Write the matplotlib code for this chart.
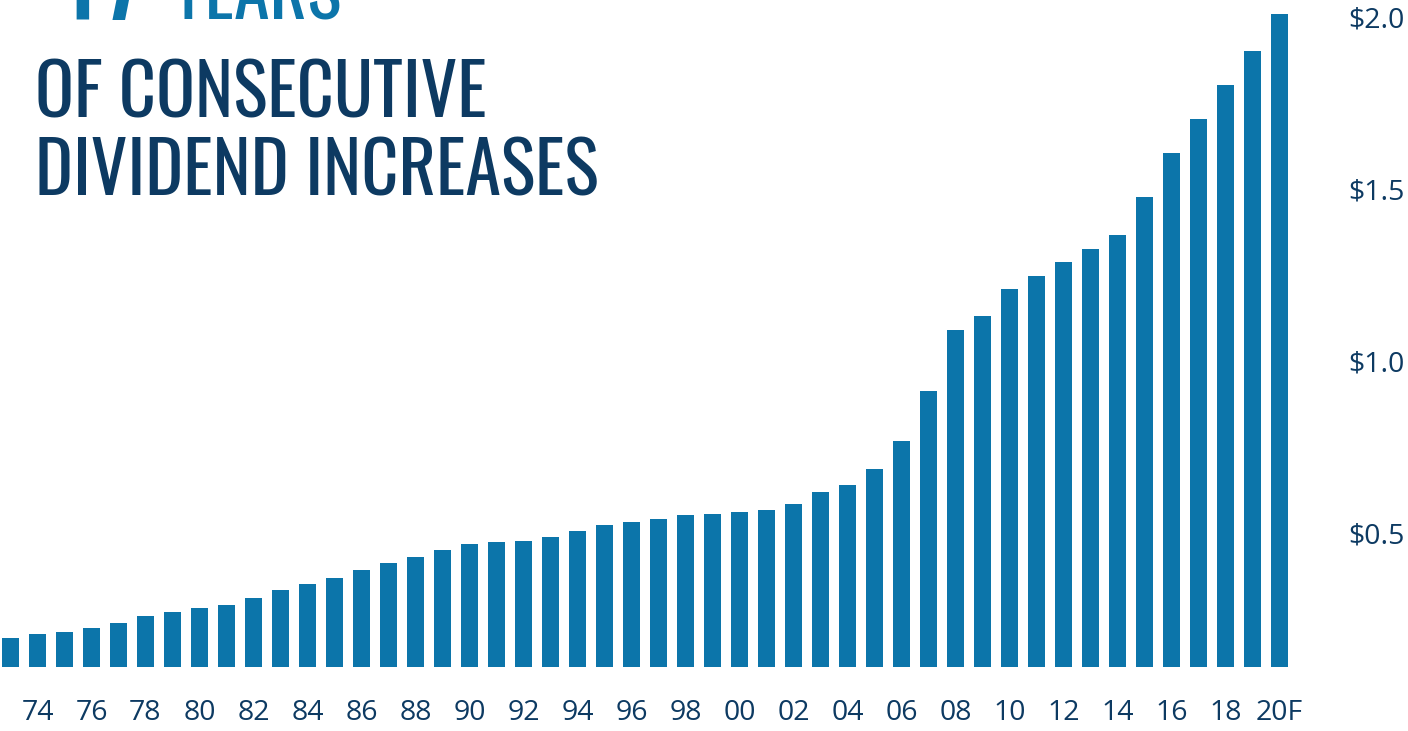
import matplotlib
matplotlib.use("Agg")
import matplotlib.pyplot as plt

# Annual dividend per share, 1973 - 2020 (forecast)
years = list(range(1973, 2021))
dividends = [
    0.195, 0.206, 0.212, 0.224, 0.238, 0.259, 0.270, 0.282, 0.291, 0.311,
    0.334, 0.352, 0.369, 0.392, 0.413, 0.430, 0.451, 0.468, 0.474, 0.477,
    0.488, 0.506, 0.523, 0.532, 0.541, 0.552, 0.555, 0.561, 0.567, 0.584,
    0.619, 0.640, 0.686, 0.767, 0.913, 1.090, 1.131, 1.209, 1.247, 1.288,
    1.326, 1.366, 1.477, 1.605, 1.703, 1.802, 1.901, 2.009,
]
year_labels = [f"{y % 100:02d}" for y in years[:-1]] + ["20F"]
y_ticks = [0.5, 1.0, 1.5, 2.0]
y_tick_labels = ["$0.5", "$1.0", "$1.5", "$2.0"]

bar_color = "#0c75aa"
navy = "#0d3a62"
W, H = 1408, 731

fig = plt.figure(figsize=(W / 100, H / 100), dpi=100)
ax = fig.add_axes([0, (H - 667) / H, 1290 / W, 667 / H])

x = list(range(len(years)))
ax.bar(x, dividends, width=0.63, color=bar_color)

ax.set_xlim(-0.389, 47.39)
ax.set_ylim(0.1105, 2.049)

ax.set_xticks(x[1::2])
ax.set_xticklabels(year_labels[1::2], fontfamily="Open Sans", fontsize=20.5, color=navy)
ax.tick_params(axis="x", length=0, pad=23)

ax.yaxis.tick_right()
ax.set_yticks(y_ticks)
ax.set_yticklabels(y_tick_labels, fontfamily="Open Sans", fontsize=20.5, color=navy)
ax.tick_params(axis="y", length=0, pad=42)

for side in ["top", "right", "bottom", "left"]:
    ax.spines[side].set_visible(False)

# Headline, partly cut off at the top edge
title_font = ["Oswald", "Open Sans Condensed", "DejaVu Sans"]
fig.text(42 / W, 1 - 20 / H, "47", fontfamily=title_font, fontweight="bold",
         fontsize=88, color=bar_color, va="baseline", ha="left")
fig.text(170 / W, 1 - 20 / H, "YEARS", fontfamily=title_font, fontweight=200,
         fontsize=52, color=bar_color, va="baseline", ha="left")
fig.text(35 / W, 1 - 117 / H, "OF CONSECUTIVE", fontfamily=title_font, fontweight=200,
         fontsize=52, color=navy, va="baseline", ha="left")
fig.text(35 / W, 1 - 196 / H, "DIVIDEND INCREASES", fontfamily=title_font, fontweight=200,
         fontsize=52, color=navy, va="baseline", ha="left")

fig.savefig("out.png", dpi=100)
